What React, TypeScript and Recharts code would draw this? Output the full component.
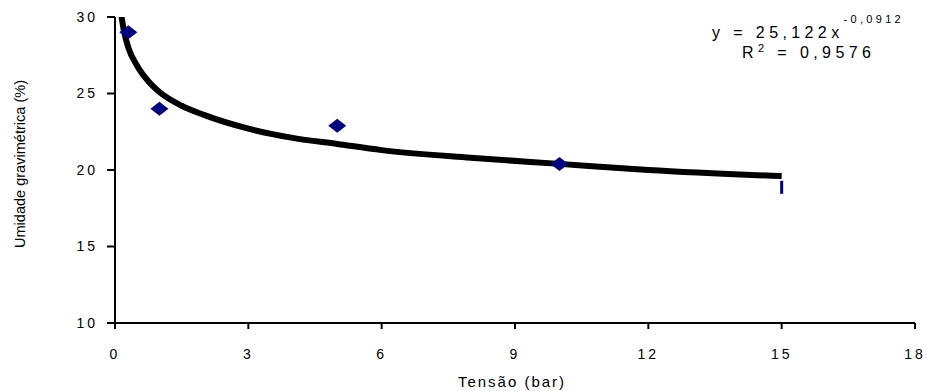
import { ComposedChart, Scatter, Line, XAxis, YAxis } from 'recharts'

// measured points
const tension = [0.3, 1, 5, 10, 15]
const moisture = [29.0, 24.0, 22.9, 20.4, 18.9]

// power trendline
const trendX = [0.1, 0.2, 0.3, 0.5, 0.75, 1, 1.5, 2, 3, 4, 5, 6, 8, 10, 12, 15]
const trendY = [31.0, 29.1, 28.0, 26.8, 25.8, 25.1, 24.2, 23.6, 22.7, 22.1, 21.7, 21.3, 20.8, 20.4, 20.0, 19.6]

const xTicks = [0, 3, 6, 9, 12, 15, 18]
const yTicks = [10, 15, 20, 25, 30]

const points = tension.map((x, i) => ({ x, y: moisture[i] }))
const trend = trendX.map((x, i) => ({ x, y: trendY[i] }))

const FONT = '"Liberation Sans", Arial, sans-serif'
const NAVY = '#000080'

function Diamond(props: any) {
  const { cx, cy, payload } = props
  if (cx == null || cy == null) return null
  // last marker is mostly hidden in the original, only a sliver shows
  if (payload && payload.x >= 15) {
    return <rect x={cx - 1.5} y={cy - 6} width={3} height={13} fill={NAVY} />
  }
  return (
    <polygon
      points={`${cx - 9},${cy} ${cx},${cy - 7} ${cx + 9},${cy} ${cx},${cy + 7}`}
      fill={NAVY}
    />
  )
}

const tickStyle = { fill: '#000', fontSize: 14, fontFamily: FONT, letterSpacing: 3 }

export default function App() {
  return (
    <div style={{ position: 'absolute', left: 0, top: 0, width: 927, height: 391, background: '#fff' }}>
      <ComposedChart width={927} height={391} margin={{ top: 17, right: 12, bottom: 0, left: 0 }}>
        <XAxis
          dataKey="x"
          type="number"
          domain={[0, 18]}
          ticks={xTicks}
          height={68}
          axisLine={{ stroke: '#000', strokeWidth: 2 }}
          tickLine={{ stroke: '#000', strokeWidth: 2 }}
          tickSize={6}
          tickMargin={20}
          tick={tickStyle}
          interval={0}
        />
        <YAxis
          dataKey="y"
          type="number"
          domain={[10, 30]}
          ticks={yTicks}
          allowDataOverflow
          width={115}
          axisLine={{ stroke: '#000', strokeWidth: 2 }}
          tickLine={{ stroke: '#000', strokeWidth: 2 }}
          tickSize={8}
          tickMargin={9}
          tick={tickStyle}
          interval={0}
        />
        <Scatter data={points} dataKey="y" shape={Diamond} isAnimationActive={false} />
        <Line
          data={trend}
          dataKey="y"
          type="monotone"
          stroke="#000"
          strokeWidth={6}
          dot={false}
          activeDot={false}
          isAnimationActive={false}
        />
      </ComposedChart>
      <svg
        width={927}
        height={391}
        style={{ position: 'absolute', left: 0, top: 0, pointerEvents: 'none' }}
        fontFamily={FONT}
      >
        <text
          transform="translate(25,164) rotate(-90)"
          textAnchor="middle"
          fontSize={15}
          textLength={168}
          lengthAdjust="spacingAndGlyphs"
          fill="#000"
        >
          Umidade gravimétrica (%)
        </text>
        <text x={512} y={387} textAnchor="middle" fontSize={15} letterSpacing={2} fill="#000">
          Tensão (bar)
        </text>
        <text x={712} y={38} fontSize={16} letterSpacing={4.4} fill="#000">
          y = 25,122x
          <tspan dy={-15} fontSize={11} letterSpacing={3.3}>-0,0912</tspan>
        </text>
        <text x={742} y={58} fontSize={16} letterSpacing={4.4} fill="#000">
          R
          <tspan dy={-6} fontSize={11}>2</tspan>
          <tspan dy={6} fontSize={16}> = 0,9576</tspan>
        </text>
      </svg>
    </div>
  )
}
